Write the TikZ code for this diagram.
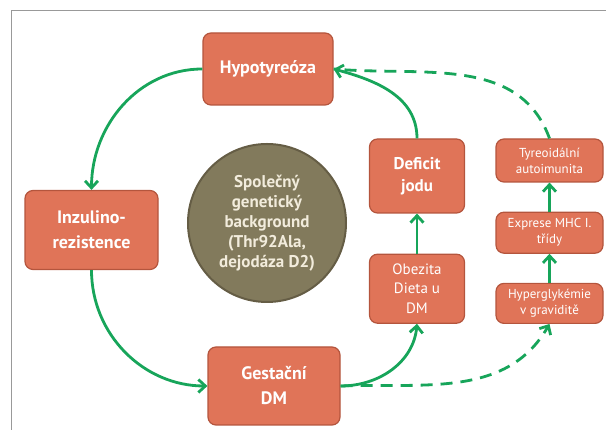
\documentclass[tikz,border=0pt]{standalone}
\usepackage{fontspec}
\setmainfont{PT Sans}
\usepackage{xcolor}
\usepackage{tikz}
\usetikzlibrary{positioning,arrows.meta}
\definecolor{boxfill}{HTML}{E07458}
\definecolor{boxedge}{HTML}{B4553D}
\definecolor{genfill}{HTML}{827A5C}
\definecolor{genedge}{HTML}{655D45}
\definecolor{gentext}{HTML}{F2ECDC}
\definecolor{arrowgreen}{HTML}{17A55A}
\tikzstyle{cause}=[rectangle, draw=boxedge, line width=1.2pt, fill=boxfill, rounded corners=8pt,
        text=white, align=center, inner sep=0pt]
\tikzstyle{bigcause}=[cause, minimum width=132pt, minimum height=78pt, font=\fontsize{18}{25}\selectfont\bfseries]
\tikzstyle{midcause}=[cause, minimum width=95pt, minimum height=72pt]
\tikzstyle{smallcause}=[cause, minimum width=107pt, minimum height=41pt, font=\fontsize{13}{16}\selectfont]
\tikzstyle{myarrow}=[-{Straight Barb[length=7pt,width=13pt]}, line width=2.8pt, draw=arrowgreen]
\tikzstyle{dasharrow}=[myarrow, dash pattern=on 12pt off 8pt]
\tikzstyle{dashline}=[-, line width=2.8pt, draw=arrowgreen, dash pattern=on 12pt off 8pt]

\begin{document}
\begin{tikzpicture}[x=1pt, y=1pt, node distance=29pt]
    \useasboundingbox (0,0) rectangle (606,430);
    \draw[gray!80, line width=1.5pt] (11.5,-5) |- (615,419.5);
    \node (Hypo) [bigcause, minimum width=130pt, minimum height=72pt] at (268,361)
        {Hypotyreóza};
    \node (Inzulin) [bigcause, minimum width=133pt, minimum height=79pt] at (91.5,200)
        {Inzulino-\\rezistence};
    \node (Gestacni) [bigcause] at (274,44)
        {Gestační\\DM};
    \node (Gen) [circle, fill=genfill, draw=genedge, line width=2pt, minimum size=158pt,
        text=gentext, align=center, font=\fontsize{17}{20}\selectfont\bfseries] at (267,207)
        {Společný\\genetický\\background\\(Thr92Ala,\\dejodáza D2)};
    \node (Deficit) [midcause, minimum height=74pt, font=\fontsize{17}{22}\selectfont\bfseries] at (417,254)
        {Deficit\\jodu};
    \node (Obezita) [midcause, minimum height=69pt, font=\fontsize{15}{19.5}\selectfont, below=40pt of Deficit]
        {Obezita\\Dieta u\\DM};
    \node (Autoimun) [smallcause, minimum height=43pt] at (549.5,269.5)
        {Tyreoidální\\autoimunita};
    \node (Mhc) [smallcause, below=of Autoimun]
        {Exprese MHC I.\\třídy};
    \node (Hyperglyk) [smallcause, minimum height=40pt, below=of Mhc]
        {Hyperglykémie\\v graviditě};
    \draw[myarrow] (Hypo.west) to[out=180, in=90] (Inzulin.north);
    \draw[myarrow] (Inzulin.south) to[out=-90, in=180] (Gestacni.west);
    \draw[myarrow] (Gestacni.east) to[out=0, in=-95] (Obezita.south);
    \draw[myarrow] (Obezita.north) -- (Deficit.south);
    \draw[myarrow] (Deficit.north) to[out=90, in=-15] (Hypo.east);
    \draw[dasharrow] (Gestacni.east) to[out=2, in=-120] (Hyperglyk.south);
    \draw[myarrow] (Hyperglyk.north) -- (Mhc.south);
    \draw[myarrow] (Mhc.north) -- (Autoimun.south);
    \draw[dashline] (Autoimun.north) to[out=110, in=-5] (Hypo.east);
\end{tikzpicture}
\end{document}
